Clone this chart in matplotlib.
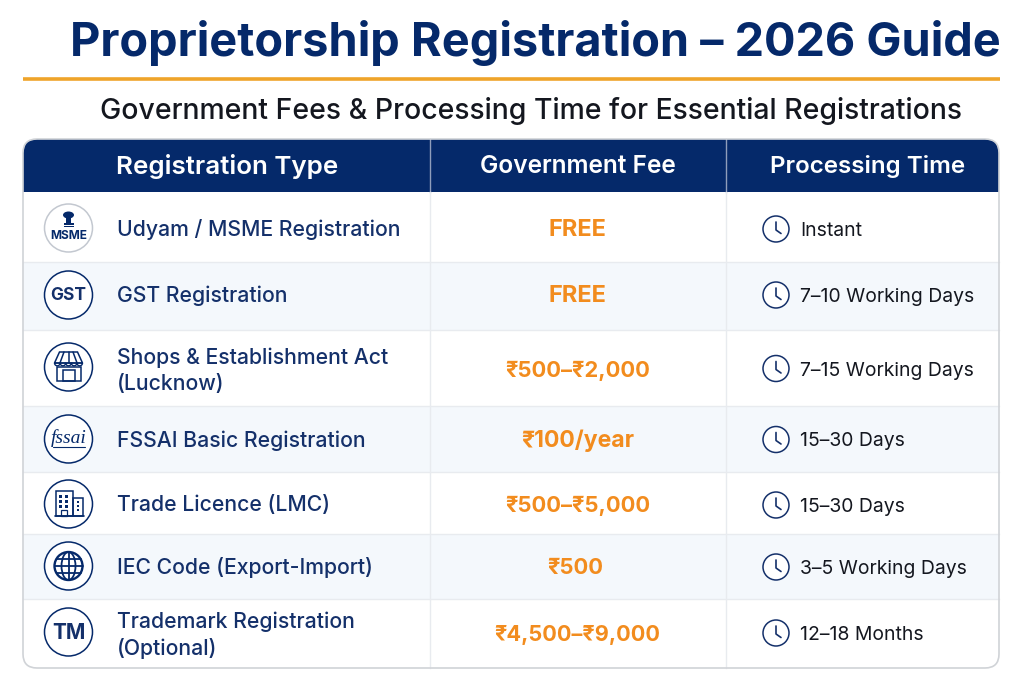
import matplotlib
matplotlib.use("Agg")
import matplotlib.pyplot as plt
from matplotlib.patches import FancyBboxPatch, Circle, Rectangle, Polygon, Ellipse, Wedge
from matplotlib.lines import Line2D

plt.rcParams['font.family'] = ['Inter', 'DejaVu Sans']

TITLE = "Proprietorship Registration – 2026 Guide"
SUBTITLE = "Government Fees & Processing Time for Essential Registrations"
HEADERS = ["Registration Type", "Government Fee", "Processing Time"]
REG_TYPES = ["Udyam / MSME Registration", "GST Registration",
             "Shops & Establishment Act\n(Lucknow)", "FSSAI Basic Registration",
             "Trade Licence (LMC)", "IEC Code (Export-Import)",
             "Trademark Registration\n(Optional)"]
FEES = ["FREE", "FREE", "₹500–₹2,000", "₹100/year", "₹500–₹5,000", "₹500", "₹4,500–₹9,000"]
TIMES = ["Instant", "7–10 Working Days", "7–15 Working Days", "15–30 Days",
         "15–30 Days", "3–5 Working Days", "12–18 Months"]
ROW_EDGES = [192, 262, 330, 406, 472, 534, 599, 668]
COL_EDGES = [23, 430, 726, 999]

NAVY = "#05296a"
TEXTNAVY = "#14306a"
ORANGE = "#f28c1e"
GOLD = "#efa42a"
STRIPE = "#f4f8fc"
GRID = "#e8ebef"
BORDER = "#d0d3d7"

fig = plt.figure(figsize=(10.24, 6.83), dpi=100, facecolor="white")
ax = fig.add_axes([0, 0, 1, 1])
ax.set_xlim(0, 1024)
ax.set_ylim(683, 0)
ax.axis("off")

ax.text(70, 43.5, TITLE, fontsize=33.72, fontweight="bold", color=NAVY, ha="left", va="center")
ax.add_line(Line2D([23, 1000], [79, 79], color=GOLD, lw=2.6, solid_capstyle="butt"))
ax.text(100, 111, SUBTITLE, fontsize=20.45, fontweight="medium", color="#14171f", ha="left", va="center")

L, R, T, B = COL_EDGES[0], COL_EDGES[-1], 139, ROW_EDGES[-1]
rad = 14
clip = FancyBboxPatch((L, T), R - L, B - T, boxstyle=f"round,pad=0,rounding_size={rad}",
                      fc="white", ec="none", zorder=1)
ax.add_patch(clip)

hdr = Rectangle((L, T), R - L, ROW_EDGES[0] - T, fc=NAVY, ec="none", zorder=2)
ax.add_patch(hdr)
hdr.set_clip_path(clip)
for i in range(len(REG_TYPES)):
    y0, y1 = ROW_EDGES[i], ROW_EDGES[i + 1]
    r = Rectangle((L, y0), R - L, y1 - y0, fc=STRIPE if i % 2 else "white", ec="none", zorder=2)
    ax.add_patch(r)
    r.set_clip_path(clip)
    if i:
        ax.add_line(Line2D([L, R], [y0, y0], color=GRID, lw=1, zorder=3))
for x in COL_EDGES[1:3]:
    ax.add_line(Line2D([x, x], [T, ROW_EDGES[0]], color="#8f9dbb", lw=1, zorder=3))
    ax.add_line(Line2D([x, x], [ROW_EDGES[0], B], color=GRID, lw=1, zorder=3))
ax.add_patch(FancyBboxPatch((L, T), R - L, B - T, boxstyle=f"round,pad=0,rounding_size={rad}",
                            fc="none", ec=BORDER, lw=1.2, zorder=4))

hdr_x = [227.5, 577.5, 867.5]
hdr_size = [18.7, 17.6, 17.4]
for x, h, s in zip(hdr_x, HEADERS, hdr_size):
    ax.text(x, 166.5, h, fontsize=s, fontweight="semibold", color="white", ha="center", va="center", zorder=5)

ICON_X = 68.5
ICON_R = 24
ICON_Y = [228, 295, 367, 439, 504, 566, 632]
TEXT_Y = [229.5, 295.5, 371, 440.5, 505.5, 568, 635]
FEE_Y = [230.5, 296.5, 370.5, 441, 505.5, 568, 635]
TIME_Y = [230.5, 297, 370.5, 441, 506.5, 569, 635]
CLOCK_Y = [229, 295, 368.5, 439.5, 505, 567, 633]
FEE_SIZE = [17, 17, 15.8, 16.6, 15.8, 15.8, 15.6]
FEE_X = [577.5, 577.5, 577.5, 577.5, 577.5, 575.5, 577]


def stroke(xs, ys, lw=1.1, color=NAVY):
    ax.add_line(Line2D(xs, ys, color=color, lw=lw, zorder=6, solid_capstyle="round"))


def rect(x, y, w, h, lw=1.1, fc="none"):
    ax.add_patch(Rectangle((x, y), w, h, fc=fc, ec=NAVY, lw=lw, zorder=6))


def icon_msme(cx, cy):
    ax.text(cx, cy + 8, "MSME", fontsize=8.6, fontweight="bold", color=NAVY, ha="center", va="center", zorder=6)
    ax.add_patch(Ellipse((cx, cy - 13), 11, 7, fc=NAVY, ec="none", zorder=6))
    ax.add_patch(Rectangle((cx - 2.5, cy - 11), 5, 6, fc=NAVY, ec="none", zorder=6))
    ax.add_patch(Rectangle((cx - 5, cy - 5), 10, 1.6, fc=NAVY, ec="none", zorder=6))
    ax.add_patch(Rectangle((cx - 5, cy - 2.5), 10, 1.6, fc=NAVY, ec="none", zorder=6))


def icon_shop(cx, cy):
    ax.add_patch(Polygon([(cx - 9, cy - 15), (cx + 9, cy - 15), (cx + 14, cy - 4), (cx - 14, cy - 4)],
                         closed=True, fc="none", ec=NAVY, lw=1.1, zorder=6))
    for dx in (-4.5, 0, 4.5):
        stroke([cx + dx, cx + dx * 1.9], [cy - 15, cy - 4])
    for dx in (-11.2, -5.6, 0, 5.6, 11.2):
        ax.add_patch(Wedge((cx + dx, cy - 4), 2.8, 0, 180, fc="none", ec=NAVY, lw=1.0, zorder=6))
    rect(cx - 12, cy, 24, 14)
    rect(cx - 6, cy + 3, 12, 11)


def icon_fssai(cx, cy):
    ax.text(cx, cy - 1, "fssai", fontsize=14, family="Liberation Serif", style="italic",
            color=NAVY, ha="center", va="center", zorder=6)
    stroke([cx - 16, cx + 16], [cy + 8, cy + 8], lw=0.8)


def icon_building(cx, cy):
    rect(cx - 13, cy - 13, 17, 25)
    rect(cx + 4, cy - 6, 10, 18)
    stroke([cx - 14, cx + 15], [cy + 12, cy + 12], lw=1.2)
    for row in (-9, -4, 1):
        for col in (-10, -4):
            ax.add_patch(Rectangle((cx + col, cy + row), 3, 2.5, fc=NAVY, ec="none", zorder=6))
    for row in (-3, 1, 5):
        ax.add_patch(Rectangle((cx + 8, cy + row), 2.2, 2, fc=NAVY, ec="none", zorder=6))
    rect(cx - 8, cy + 6, 6, 6, lw=0.9)


def icon_globe(cx, cy):
    r = 14
    ax.add_patch(Circle((cx, cy), r, fc="none", ec=NAVY, lw=1.7, zorder=6))
    ax.add_patch(Ellipse((cx, cy), r, 2 * r, fc="none", ec=NAVY, lw=1.3, zorder=6))
    stroke([cx, cx], [cy - r, cy + r], lw=1.3)
    stroke([cx - r, cx + r], [cy, cy], lw=1.3)
    for dy in (-7, 7):
        stroke([cx - 12, cx + 12], [cy + dy, cy + dy], lw=1.3)


def icon_text(label, size):
    def draw(cx, cy):
        ax.text(cx, cy + 1, label, fontsize=size, fontweight="bold", color=TEXTNAVY,
                ha="center", va="center", zorder=6)
    return draw


ICONS = [icon_msme, icon_text("GST", 12.5), icon_shop, icon_fssai, icon_building, icon_globe, icon_text("TM", 15)]

for i in range(len(REG_TYPES)):
    ec = "#c3c8d0" if i == 0 else NAVY
    ax.add_patch(Circle((ICON_X, ICON_Y[i]), ICON_R, fc="white", ec=ec, lw=1.1, zorder=5))
    ICONS[i](ICON_X, ICON_Y[i])
    ax.text(117, TEXT_Y[i], REG_TYPES[i], fontsize=15.25, fontweight="medium", color=TEXTNAVY,
            ha="left", va="center", linespacing=1.36, zorder=5)
    ax.text(FEE_X[i], FEE_Y[i], FEES[i], fontsize=FEE_SIZE[i],
            fontweight="bold", color=ORANGE, ha="center", va="center", zorder=5)
    cy = CLOCK_Y[i]
    ax.add_patch(Circle((776, cy), 13, fc="white", ec=TEXTNAVY, lw=1.1, zorder=5))
    stroke([776, 776, 781], [cy - 7, cy + 1, cy + 4.5], lw=1.2, color=TEXTNAVY)
    ax.text(800, TIME_Y[i], TIMES[i], fontsize=13.95, color="#14171f", ha="left", va="center", zorder=5)

fig.savefig("out.png", dpi=100, facecolor="white")
